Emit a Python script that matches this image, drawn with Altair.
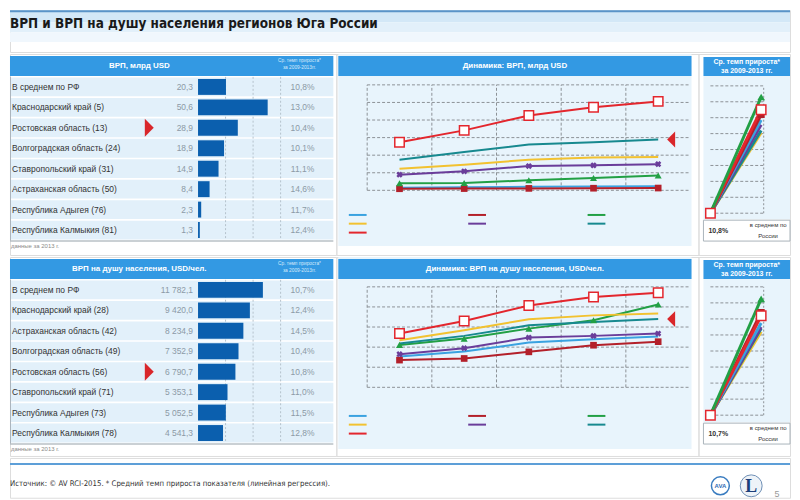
import altair as alt
import pandas as pd

SANS = "Liberation Sans"
NARROW = "'Liberation Sans Narrow', 'DejaVu Sans Condensed', 'Liberation Sans', sans-serif"

HEAD_BLUE = "#3399e3"
PANEL_BG = "#e8f4fc"
ROW_BG = "#e2f0fa"
BAR_BLUE = "#0b5fae"
POINTER_RED = "#d9262a"
GRID = "#8c9196"

# ---------------- data ----------------
years = [2009, 2010, 2011, 2012, 2013]

regions = ["Республика Адыгея", "Республика Калмыкия", "Астраханская область",
           "Волгоградская область", "Ставропольский край", "Ростовская область",
           "Краснодарский край"]
region_colors = ["#3aa2e0", "#b3202a", "#22a045", "#f2c230", "#6a3d9a", "#17898f", "#e3262d"]

# ВРП, млрд USD, 2009-2013
grp_adygea = [1.5, 1.7, 2.0, 2.2, 2.3]
grp_kalmykia = [0.9, 1.0, 1.1, 1.2, 1.3]
grp_astrakhan = [4.0, 4.2, 5.7, 7.0, 8.4]
grp_volgograd = [12.3, 14.6, 17.4, 18.7, 18.9]
grp_stavropol = [8.9, 10.8, 13.8, 14.2, 14.9]
grp_rostov = [17.4, 21.8, 26.1, 27.4, 28.9]
grp_krasnodar = [27.4, 34.1, 42.6, 47.3, 50.6]

# ВРП на душу населения, USD/чел., 2009-2013
pc_adygea = [3070, 3560, 4460, 4790, 5052.5]
pc_kalmykia = [2710, 2870, 3530, 4190, 4541.3]
pc_astrakhan = [4220, 4850, 5840, 6670, 8234.9]
pc_volgograd = [4690, 5680, 6770, 7160, 7352.9]
pc_stavropol = [3300, 3890, 4950, 5120, 5353.1]
pc_rostov = [4360, 5120, 6170, 6500, 6790.7]
pc_krasnodar = [5350, 6600, 8150, 8980, 9420.0]

# Table 1: ВРП, млрд USD (2013) and average growth 2009-2013, %
t1_labels = ["В среднем по РФ", "Краснодарский край (5)", "Ростовская область (13)",
             "Волгоградская область (24)", "Ставропольский край (31)",
             "Астраханская область (50)", "Республика Адыгея (76)", "Республика Калмыкия (81)"]
t1_values = [20.3, 50.6, 28.9, 18.9, 14.9, 8.4, 2.3, 1.3]
t1_growth = [10.8, 13.0, 10.4, 10.1, 11.1, 14.6, 11.7, 12.4]

# Table 2: ВРП на душу населения, USD/чел. (2013)
t2_labels = ["В среднем по РФ", "Краснодарский край (28)", "Астраханская область (42)",
             "Волгоградская область (49)", "Ростовская область (56)",
             "Ставропольский край (71)", "Республика Адыгея (73)", "Республика Калмыкия (78)"]
t2_values = [11782.1, 9420.0, 8234.9, 7352.9, 6790.7, 5353.1, 5052.5, 4541.3]
t2_growth = [10.7, 12.4, 14.5, 10.4, 10.8, 11.0, 11.5, 12.8]

one = pd.DataFrame({"k": [0]})


def fmt_dec(v):
    return f"{v:.1f}".replace(".", ",")


def fmt_thousands(v):
    return f"{v:,.1f}".replace(",", " ").replace(".", ",")


def deco_rect(x, x2, y, y2, **kw):
    return alt.Chart(one).mark_rect(**kw).encode(
        x=alt.value(x), x2=alt.value(x2), y=alt.value(y), y2=alt.value(y2))


def deco_rule(x, x2, y, y2, **kw):
    return alt.Chart(one).mark_rule(**kw).encode(
        x=alt.value(x), x2=alt.value(x2), y=alt.value(y), y2=alt.value(y2))


def deco_text(text, x, y, **kw):
    return alt.Chart(one).mark_text(text=text, **kw).encode(x=alt.value(x), y=alt.value(y))


def long_df(series):
    rows = []
    for name, vals in zip(regions, series):
        for yr, v in zip(years, vals):
            rows.append({"region": name, "year": yr, "value": v})
    return pd.DataFrame(rows)


# ---------------- table panel ----------------
def table_panel(labels, values, growth, fmt_value, xmax, grid_vals, header, H):
    W = 328
    df = pd.DataFrame({
        "label": labels, "value": values,
        "vtext": [fmt_value(v) for v in values],
        "gtext": [fmt_dec(g) + "%" for g in growth],
    })
    yscale = alt.Scale(domain=labels, range=[23, 187], paddingInner=0.08, paddingOuter=0.03)
    Y = alt.Y("label:N", scale=yscale, axis=None)
    xscale = alt.Scale(domain=[0, xmax], range=[189, 272])
    base = alt.Chart(df)
    rostov = [l for l in labels if l.startswith("Ростовская")][0]

    layers = [
        deco_rect(0, 325, 2, 22, color=HEAD_BLUE),
        deco_text(header, 130, 12, font=SANS, fontSize=8, fontWeight="bold", color="white"),
        deco_text("Ср. темп прироста*", 291, 7.5, font=SANS, fontSize=4.8, color="#d6ebfb"),
        deco_text("за 2009-2013гг.", 291, 14, font=SANS, fontSize=4.8, color="#d6ebfb"),
        base.mark_rect(color=ROW_BG).encode(y=Y, x=alt.value(0), x2=alt.value(325)),
        alt.Chart(pd.DataFrame({"g": grid_vals})).mark_rule(
            color="#b4c2cc", strokeDash=[2, 2], strokeWidth=1).encode(
            x=alt.X("g:Q", scale=xscale, axis=None), y=alt.value(23), y2=alt.value(187)),
        deco_rule(0.5, 0.5, 23, 188, color="#aab4bc", strokeWidth=1),
        deco_rule(0, 325, 188, 188, color="#b8c0c6", strokeWidth=1.5),
        base.mark_bar(color=BAR_BLUE, size=16).encode(
            y=Y, x=alt.X("value:Q", scale=xscale, axis=None)),
        base.mark_text(align="left", font=SANS, fontSize=8.5, color="#333333").encode(
            y=Y, x=alt.value(2), text="label:N"),
        base.mark_text(align="right", font=SANS, fontSize=8.5, color="#8c9aa6").encode(
            y=Y, x=alt.value(184), text="vtext:N"),
        base.mark_text(align="center", font=SANS, fontSize=8.5, color="#8c9aa6").encode(
            y=Y, x=alt.value(294), text="gtext:N"),
        base.transform_filter(alt.datum.label == rostov).mark_point(
            shape="M-0.5,-1L0.5,0L-0.5,1Z", filled=True, color=POINTER_RED, size=324,
            opacity=1).encode(y=Y, x=alt.value(140)),
        deco_text("данные за 2013 г.", 1, 193, align="left", font=SANS, fontSize=6,
                  color="#8a8a8a"),
    ]
    return alt.layer(*layers).properties(width=W, height=H)


# ---------------- line panel ----------------
def line_panel(series, ymax, ystep, header, ytop, ybot, legend_x, legend_y, H):
    W = 364
    df = long_df(series)
    xs = alt.Scale(domain=[2008.5, 2013.5], range=[31, 356])
    ys = alt.Scale(domain=[0, ymax], range=[ybot, ytop])
    X = alt.X("year:Q", scale=xs, axis=None)
    Y = alt.Y("value:Q", scale=ys, axis=None)
    ygrid = [ystep * i for i in range(0, int(round(ymax / ystep)) + 1)]
    xgrid = [2008.5, 2009.5, 2010.5, 2011.5, 2012.5]
    base = alt.Chart(df)

    def pts(region, **kw):
        return base.transform_filter(alt.datum.region == region).mark_point(
            opacity=1, **kw).encode(x=X, y=Y)

    hgrid_df = pd.DataFrame({"g": ygrid})
    vgrid_df = pd.DataFrame({"g": xgrid})

    layers = [
        deco_rect(2, 357, 0, 193, color=PANEL_BG),
        deco_rect(2, 357, 2, 22, color=HEAD_BLUE),
        deco_text(header, 179.5, 12, font=SANS, fontSize=8, fontWeight="bold", color="white"),
        alt.Chart(hgrid_df).transform_calculate(a="2008.5", b="2013.5").mark_rule(
            color=GRID, strokeDash=[3, 2], strokeWidth=1).encode(
            y=alt.Y("g:Q", scale=ys, axis=None), x=alt.X("a:Q", scale=xs, axis=None),
            x2="b:Q"),
        alt.Chart(vgrid_df).transform_calculate(a="0", b=str(ymax)).mark_rule(
            color=GRID, strokeDash=[3, 2], strokeWidth=1).encode(
            x=alt.X("g:Q", scale=xs, axis=None), y=alt.Y("a:Q", scale=ys, axis=None),
            y2="b:Q"),
        base.mark_line(strokeWidth=2).encode(
            x=X, y=Y,
            color=alt.Color("region:N", scale=alt.Scale(domain=regions, range=region_colors),
                            legend=alt.Legend(orient="none", legendX=legend_x,
                                              legendY=legend_y,
                                              columns=3, direction="horizontal", title=None,
                                              labelExpr="''", symbolType="M-4,0L4,0",
                                              symbolSize=20, symbolStrokeWidth=2,
                                              labelFontSize=7, labelOffset=0,
                                              rowPadding=0, columnPadding=93,
                                              symbolOffset=6))),
        pts("Республика Калмыкия", shape="square", filled=True, color="#b3202a", size=45),
        pts("Астраханская область", shape="triangle-up", filled=True, color="#22a045", size=50),
        pts("Ставропольский край", shape="cross", angle=45, filled=True, color="#6a3d9a", size=40),
        pts("Краснодарский край", shape="square", filled=True, fill="white", stroke="#e3262d",
            strokeWidth=1.5, size=90),
        base.transform_filter(
            (alt.datum.region == "Ростовская область") & (alt.datum.year == 2013)).mark_point(
            shape="M0.5,-1L-0.5,0L0.5,1Z", filled=True, color=POINTER_RED, size=256,
            opacity=1, xOffset=13).encode(x=X, y=Y),
    ]
    return alt.layer(*layers).properties(width=W, height=H)


# ---------------- slope panel ----------------
def slope_panel(labels, growth, ytop, ybot, H):
    W = 92
    rate = {}
    for l, g in zip(labels, growth):
        for r in regions:
            if l.startswith(r):
                rate[r] = g
    rf_rate = growth[0]
    draw_order = ["Волгоградская область", "Ростовская область", "Ставропольский край",
                  "Республика Адыгея", "Республика Калмыкия", "Краснодарский край",
                  "Астраханская область"]
    rows = []
    for i, r in enumerate(draw_order):
        rows.append({"region": r, "pos": 0, "rate": 0.0, "o": i})
        rows.append({"region": r, "pos": 1, "rate": rate[r], "o": i})
    df = pd.DataFrame(rows)
    xs = alt.Scale(domain=[0, 1], range=[12, 63])
    ys = alt.Scale(domain=[0, 16], range=[ybot, ytop])
    X = alt.X("pos:Q", scale=xs, axis=None)
    Y = alt.Y("rate:Q", scale=ys, axis=None)
    base = alt.Chart(df)

    def pts(region, min_pos, **kw):
        return base.transform_filter(
            (alt.datum.region == region) & (alt.datum.pos >= min_pos)
        ).mark_point(opacity=1, **kw).encode(x=X, y=Y)

    layers = [
        deco_rect(5, 92, 22, 166, color=PANEL_BG),
        deco_rect(5, 92, 3, 22, color=HEAD_BLUE),
        deco_text("Ср. темп прироста*", 48.5, 8.5, font=SANS, fontSize=7, fontWeight="bold",
                  color="white"),
        deco_text("за 2009-2013 гг.", 48.5, 17, font=SANS, fontSize=7, fontWeight="bold",
                  color="white"),
        alt.Chart(pd.DataFrame({"g": [0, 2, 4, 6, 8, 10, 12, 14, 16]})).transform_calculate(
            a="0", b="1.05").mark_rule(
            color=GRID, strokeDash=[3, 2], strokeWidth=1).encode(
            y=alt.Y("g:Q", scale=ys, axis=None), x=alt.X("a:Q", scale=xs, axis=None),
            x2="b:Q"),
        alt.Chart(pd.DataFrame({"g": [1.05]})).transform_calculate(a="0", b="16").mark_rule(
            color=GRID, strokeDash=[2, 2], strokeWidth=1).encode(
            x=alt.X("g:Q", scale=xs, axis=None), y=alt.Y("a:Q", scale=ys, axis=None),
            y2="b:Q"),
        base.mark_line(strokeWidth=3).encode(
            x=X, y=Y, detail="region:N", order="pos:Q",
            color=alt.Color("region:N", scale=alt.Scale(domain=regions, range=region_colors),
                            legend=None)),
        pts("Республика Калмыкия", 1, shape="square", filled=True, color="#b3202a", size=50),
        pts("Астраханская область", 1, shape="triangle-up", filled=True, color="#22a045",
            size=60),
        pts("Краснодарский край", 0, shape="square", filled=True, fill="white",
            stroke="#e3262d", strokeWidth=1.5, size=90),
        deco_rect(5, 92, 167, 188, color="white", stroke="#a9b3ba", strokeWidth=1),
        deco_text(fmt_dec(rf_rate) + "%", 10, 177.5, align="left", font=SANS, fontSize=7,
                  fontWeight="bold", color="#333333"),
        deco_text("в среднем по", 70, 172, font=SANS, fontSize=6, color="#333333"),
        deco_text("России", 70, 183, font=SANS, fontSize=6, color="#333333"),
    ]
    return alt.layer(*layers).properties(width=W, height=H)


# ---------------- title & footer ----------------
title_chart = alt.layer(
    deco_rect(0, 784, 0, 12, color="#d3e8f7"),
    deco_rect(0, 784, 12, 22, color="#e2f0fa"),
    deco_rect(0, 784, 22, 32, color="#f0f7fd"),
    deco_rule(0, 784, 1, 1, color="#5a94c8", strokeWidth=2),
    deco_text("ВРП и ВРП на душу населения регионов Юга России", 0, 14, align="left",
              font=NARROW, fontSize=13.5, fontWeight="bold", color="#1a1a1a"),
).properties(width=784, height=42)

footer_chart = alt.layer(
    deco_rule(0, 784, 6, 6, color="#5d9fd8", strokeWidth=2),
    deco_text("Источник: © AV RCI-2015.  * Средний темп прироста показателя (линейная регрессия).",
              0, 26, align="left", font=NARROW, fontSize=7.8, color="#333333"),
    alt.Chart(one).mark_point(shape="circle", size=324, filled=True, fill="white",
                              stroke="#3a7cc0", strokeWidth=1.5, opacity=1).encode(
        x=alt.value(714), y=alt.value(28)),
    deco_text("AVA", 714, 28, font=SANS, fontSize=6, fontWeight="bold", color="#2f6db5"),
    alt.Chart(one).mark_point(shape="circle", size=484, filled=True, fill="#eef3f8",
                              stroke="#6f8fb5", strokeWidth=1, opacity=1).encode(
        x=alt.value(745), y=alt.value(28)),
    deco_text("L", 745, 29, font="Liberation Serif", fontSize=18, fontWeight="bold",
              color="#1c3f7a"),
    deco_text("5", 771, 36, font=SANS, fontSize=9, color="#999999"),
).properties(width=784, height=40)

row1 = alt.hconcat(
    table_panel(t1_labels, t1_values, t1_growth, fmt_dec, 60, [20, 40, 60], "ВРП, млрд USD", 202),
    line_panel([grp_adygea, grp_kalmykia, grp_astrakhan, grp_volgograd, grp_stavropol,
                grp_rostov, grp_krasnodar], 60, 10, "Динамика: ВРП, млрд USD", 31, 137,
               12, 158, 202),
    slope_panel(t1_labels, t1_growth, 32, 160, 202),
    spacing=0, bounds="flush",
).resolve_scale(color="independent")

row2 = alt.hconcat(
    table_panel(t2_labels, t2_values, t2_growth, fmt_thousands, 15000, [5000, 10000, 15000],
                "ВРП на душу населения, USD/чел.", 200),
    line_panel([pc_adygea, pc_kalmykia, pc_astrakhan, pc_volgograd, pc_stavropol,
                pc_rostov, pc_krasnodar], 10000, 2000,
               "Динамика: ВРП на душу населения, USD/чел.", 30, 131, 12, 156, 200),
    slope_panel(t2_labels, t2_growth, 30, 159, 200),
    spacing=0, bounds="flush",
).resolve_scale(color="independent")

chart = alt.vconcat(title_chart, row1, row2, footer_chart, spacing=0).resolve_scale(
    color="independent").properties(padding=0).configure_view(stroke=None).configure(font=SANS)

chart.save("out.html", embed_options={"renderer": "svg", "actions": False})
